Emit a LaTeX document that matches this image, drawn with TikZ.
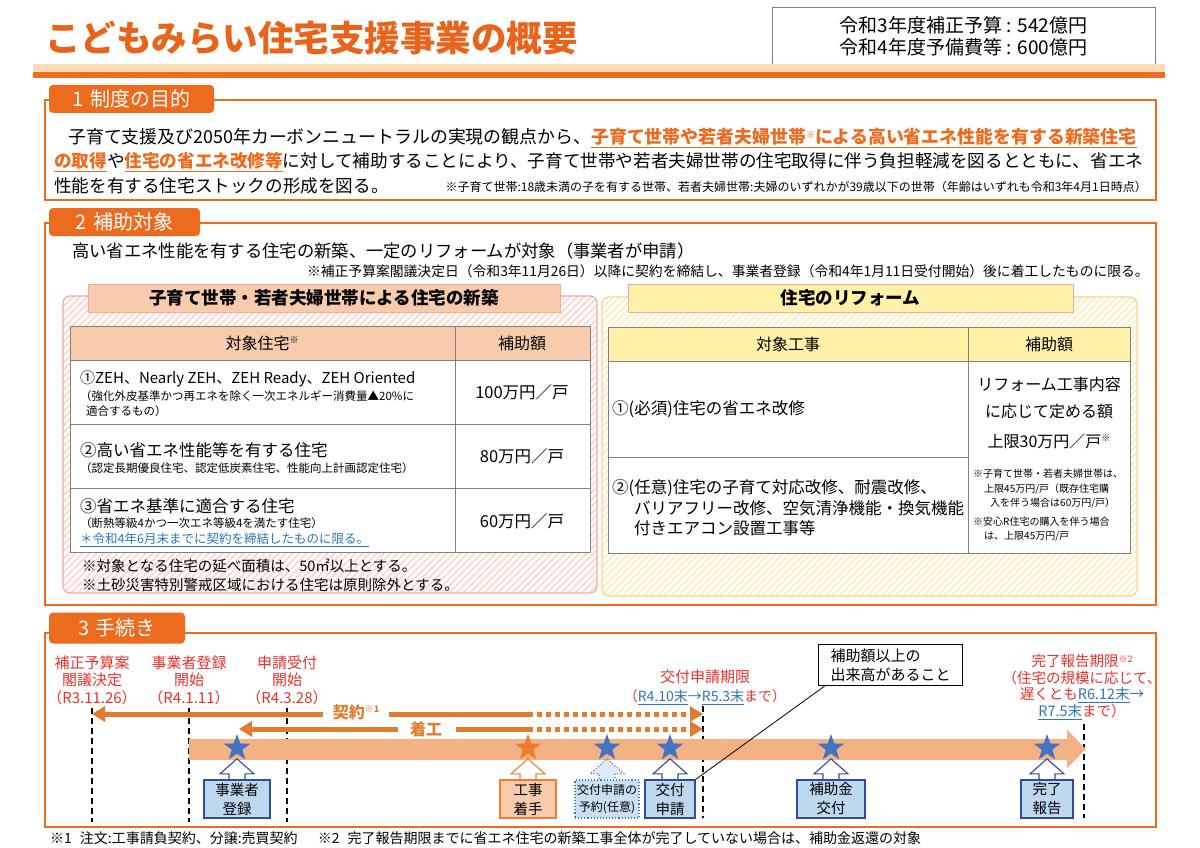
\documentclass[tikz,border=0pt]{standalone}
\usepackage{fontspec}
\setmainfont{Noto Sans CJK JP}
\usetikzlibrary{arrows.meta,shapes.geometric}
\definecolor{orng}{HTML}{EC6B1E}
\definecolor{ttl}{HTML}{E9641A}
\definecolor{lband}{HTML}{FBDDB5}
\definecolor{peach}{HTML}{F8CBAD}
\definecolor{tband}{HTML}{F4B183}
\definecolor{arrc}{HTML}{E37B2F}
\definecolor{redt}{HTML}{E8322B}
\definecolor{bluet}{HTML}{2E75B6}
\definecolor{starb}{HTML}{4472C4}
\definecolor{staro}{HTML}{ED7D31}
\definecolor{lblue}{HTML}{BDD7EE}
\definecolor{dblue}{HTML}{2F4C9E}
\definecolor{ylw}{HTML}{FFF2A8}
\definecolor{hpink}{HTML}{FADAD0}
\definecolor{hylw}{HTML}{FCEFC2}
\definecolor{pinkbd}{HTML}{F3A9A3}
\definecolor{ylwbd}{HTML}{F8D58A}
\definecolor{tgray}{HTML}{808080}
\newcommand\fsz[2]{\fontsize{#1}{#2}\selectfont}
\newcommand\kome[1]{\raisebox{.6ex}{\fsz{9}{9}#1}}
\newcommand\bl[1]{\textcolor{bluet}{\underline{#1}}}
\newcommand\uparr[2]{\draw[#2, line width=1.1pt] (#1.north) ++(-8,-0.6) -- ++(0,-5) -- ++(-9,0) -- ++(17,-15) -- ++(17,15) -- ++(-9,0) -- ++(0,5);}
\tikzset{
  sect/.style={draw=orng, line width=2.6pt},
  tabbox/.style={fill=orng, rounded corners=4pt, text=white, minimum height=28pt, font=\fsz{20}{22}},
  txt/.style={inner sep=0pt, anchor=west},
  tline/.style={draw=tgray, line width=0.9pt},
  lbl/.style={text=redt, align=center, inner sep=0pt, font=\fsz{15}{17.5}},
  ctr/.style={draw=arrc, line width=5pt},
  ctrtip/.style={-{Triangle[length=13pt,width=15pt]}},
  dotl/.style={dash pattern=on 5pt off 4pt},
  vdash/.style={draw=black, line width=1.8pt, dash pattern=on 6pt off 4pt},
  bstar/.style={star, star points=5, star point ratio=2.5, fill=starb, minimum size=28pt, inner sep=0pt},
  stepbox/.style={draw=dblue, fill=lblue, line width=1.1pt, minimum height=38pt, align=center, inner sep=1pt, font=\fsz{14.5}{19}}
}
\begin{document}
\begin{tikzpicture}[x=1pt,y=-1pt]
\fill[white] (0,0) rectangle (1200,848);
\useasboundingbox (0,0) rectangle (1200,848);

\node[txt, text=ttl, font=\fsz{35.5}{36}\bfseries] (title) at (45,38) {こどもみらい住宅支援事業の概要};
\node[draw=tgray, line width=1pt, minimum width=383pt, minimum height=57pt, align=center, font=\fsz{19}{22}] (budget) at (963.5,36.5) {令和3年度補正予算 : 542億円\\令和4年度予備費等 : 600億円};
\fill[lband] (33,64) rectangle (1165,72);
\fill[orng] (33,72) rectangle (1165,78);

\draw[sect] (45,100) rectangle (1156,200);
\node[tabbox, minimum width=165pt] (tab1) at (131.5,99) {1\hspace{6pt}制度の目的};
\node[txt, font=\fsz{17.9}{18}] (p1a) at (68,138) {子育て支援及び2050年カーボンニュートラルの実現の観点から、\textcolor{orng}{\bfseries\underline{子育て世帯や若者夫婦世帯\kome{※}による高い省エネ性能を有する新築住宅}}};
\node[txt, font=\fsz{17.6}{18}] (p1b) at (54,162) {\textcolor{orng}{\bfseries\underline{の取得}}や\textcolor{orng}{\bfseries\underline{住宅の省エネ改修等}}に対して補助することにより、子育て世帯や若者夫婦世帯の住宅取得に伴う負担軽減を図るとともに、省エネ};
\node[txt, font=\fsz{17.6}{18}] (p1c) at (54,186) {性能を有する住宅ストックの形成を図る。};
\node[txt, anchor=east, font=\fsz{12}{12}] (p1n) at (1147,187) {※子育て世帯:18歳未満の子を有する世帯、若者夫婦世帯:夫婦のいずれかが39歳以下の世帯（年齢はいずれも令和3年4月1日時点）};

\draw[sect] (45,223) rectangle (1156,605);
\node[tabbox, minimum width=151pt] (tab2) at (124.5,222) {2\hspace{6pt}補助対象};
\node[txt, font=\fsz{17.3}{18}] (p2a) at (72,251) {高い省エネ性能を有する住宅の新築、一定のリフォームが対象（事業者が申請）};
\node[txt, anchor=east, font=\fsz{13.8}{14}] (p2n) at (1149,271) {※補正予算案閣議決定日（令和3年11月26日）以降に契約を締結し、事業者登録（令和4年1月11日受付開始）後に着工したものに限る。};

\begin{scope}
\clip[rounded corners=7pt] (63,296) rectangle (597,593);
\foreach \k in {-300,-293,...,600} \draw[hpink, line width=2pt] (\k,593) -- ++(300,-300);
\end{scope}
\draw[pinkbd, line width=1.2pt, rounded corners=7pt] (63,296) rectangle (597,593);
\begin{scope}
\clip[rounded corners=7pt] (602,297) rectangle (1137,596);
\foreach \k in {300,307,...,1140} \draw[hylw, line width=2pt] (\k,596) -- ++(300,-300);
\end{scope}
\draw[ylwbd, line width=1.2pt, rounded corners=7pt] (602,297) rectangle (1137,596);

\node[draw=pinkbd, fill=peach, minimum width=472pt, minimum height=28pt, font=\fsz{17.5}{18}\bfseries] (nbt) at (324,298) {子育て世帯・若者夫婦世帯による住宅の新築};
\node[draw=pinkbd, fill=ylw, minimum width=445pt, minimum height=28pt, font=\fsz{17.5}{18}\bfseries] (rft) at (850.5,298) {住宅のリフォーム};

\fill[peach] (70,326) rectangle (590,360);
\fill[white] (70,360) rectangle (590,552);
\draw[tline] (70,326) rectangle (590,552) (455,326) -- (455,552) (70,360) -- (590,360) (70,424) -- (590,424) (70,488) -- (590,488);
\node[font=\fsz{16}{16}] (nbh1) at (262,343) {対象住宅\kome{※}};
\node[font=\fsz{16}{16}] (nbh2) at (522,343) {補助額};
\node[txt, font=\fsz{15}{16}] (r1a) at (80,379) {①ZEH、Nearly ZEH、ZEH Ready、ZEH Oriented};
\node[txt, font=\fsz{11.5}{12}] (r1b) at (80,396) {（強化外皮基準かつ再エネを除く一次エネルギー消費量▲20\%に};
\node[txt, font=\fsz{11.5}{12}] (r1c) at (80,411) {\hspace{6pt}適合するもの）};
\node[txt, font=\fsz{16.5}{17}] (r2a) at (80,450) {②高い省エネ性能等を有する住宅};
\node[txt, font=\fsz{11.5}{12}] (r2b) at (80,468) {（認定長期優良住宅、認定低炭素住宅、性能向上計画認定住宅）};
\node[txt, font=\fsz{16.5}{17}] (r3a) at (80,506) {③省エネ基準に適合する住宅};
\node[txt, font=\fsz{11.5}{12}] (r3b) at (80,523) {（断熱等級4かつ一次エネ等級4を満たす住宅）};
\node[txt, font=\fsz{12.5}{13}] (r3c) at (80,540) {\bl{＊令和4年6月末までに契約を締結したものに限る。}};
\node[font=\fsz{16.5}{17}] (v1) at (522,392) {100万円／戸};
\node[font=\fsz{16.5}{17}] (v2) at (522,456) {80万円／戸};
\node[font=\fsz{16.5}{17}] (v3) at (522,521) {60万円／戸};
\node[txt, font=\fsz{14.5}{15}] (nb1) at (82,566) {※対象となる住宅の延べ面積は、50㎡以上とする。};
\node[txt, font=\fsz{14.5}{15}] (nb2) at (82,585) {※土砂災害特別警戒区域における住宅は原則除外とする。};

\fill[ylw] (608,327) rectangle (1130,361);
\fill[white] (608,361) rectangle (1130,553);
\draw[tline] (608,327) rectangle (1130,553) (968,327) -- (968,553) (608,361) -- (1130,361) (608,457) -- (968,457);
\node[font=\fsz{16}{16}] (rfh1) at (788,344) {対象工事};
\node[font=\fsz{16}{16}] (rfh2) at (1049,344) {補助額};
\node[txt, font=\fsz{16.5}{17}] (w1) at (612,409) {①(必須)住宅の省エネ改修};
\node[txt, font=\fsz{16.5}{17}] (w2a) at (612,488) {②(任意)住宅の子育て対応改修、耐震改修、};
\node[txt, font=\fsz{16.5}{17}] (w2b) at (634,508) {バリアフリー改修、空気清浄機能・換気機能};
\node[txt, font=\fsz{16.5}{17}] (w2c) at (634,528) {付きエアコン設置工事等};
\node[font=\fsz{16}{16}] (a1) at (1049,384) {リフォーム工事内容};
\node[font=\fsz{16}{16}] (a2) at (1049,411) {に応じて定める額};
\node[font=\fsz{16}{16}] (a3) at (1049,441) {上限30万円／戸\kome{※}};
\node[txt, font=\fsz{10}{10}] (a4) at (973,474) {※子育て世帯・若者夫婦世帯は、};
\node[txt, font=\fsz{10}{10}] (a5) at (984,489) {上限45万円/戸（既存住宅購};
\node[txt, font=\fsz{10}{10}] (a6) at (990,503) {入を伴う場合は60万円/戸）};
\node[txt, font=\fsz{10}{10}] (a7) at (973,522) {※安心R住宅の購入を伴う場合};
\node[txt, font=\fsz{10}{10}] (a8) at (984,536) {は、上限45万円/戸};

\draw[sect] (45,633) rectangle (1156,827);
\node[tabbox, minimum width=136pt, minimum height=31pt] (tab3) at (117,628) {3\hspace{6pt}手続き};

\node[lbl] (d1) at (92,680) {補正予算案\\閣議決定\\（R3.11.26）};
\node[lbl] (d2) at (189,680) {事業者登録\\開始\\（R4.1.11）};
\node[lbl] (d3) at (287,680) {申請受付\\開始\\（R4.3.28）};
\node[lbl, font=\fsz{15}{19}] (d4) at (705,687) {交付申請期限\\{\fsz{14}{14}（\bl{R4.10末}\textcolor{bluet}{→}\bl{R5.3末}まで）}};
\node[lbl, font=\fsz{14.5}{16.5}] (d5) at (1082,687) {完了報告期限\kome{※2}\\（住宅の規模に応じて、\\遅くとも\bl{R6.12末}\textcolor{bluet}{→}\\\bl{R7.5末}まで）};

\coordinate (t1) at (92,708);   \coordinate (b1) at (92,822);
\coordinate (t2) at (189,708);  \coordinate (b2) at (189,822);
\coordinate (t3) at (287,708);  \coordinate (b3) at (287,822);
\coordinate (t4) at (703,706);  \coordinate (b4) at (703,818);
\coordinate (t5) at (1084,724); \coordinate (b5) at (1084,818);
\foreach \i in {1,...,5} \draw[vdash] (t\i) -- (b\i);

\coordinate (ts) at (189,749);
\coordinate (te) at (1086,749);
\draw[tband, line width=21pt, -{Triangle[length=19pt,width=37pt]}] (ts) -- (te);

\node[bstar] (s1) at (237,748) {};
\node[bstar, fill=staro] (s2) at (528,748) {};
\node[bstar] (s3) at (607,748) {};
\node[bstar] (s4) at (670,748) {};
\node[bstar] (s5) at (831,748) {};
\node[bstar] (s6) at (1047,748) {};

\node[stepbox, minimum width=66pt] (reg) at (237,799) {事業者\\登録};
\node[stepbox, draw=staro, fill=peach, minimum width=56pt] (kou) at (528,799) {工事\\着手};
\node[stepbox, draw=starb, dotted, fill=lblue!80, minimum width=64pt, font=\fsz{12}{17}] (yoy) at (607,799) {交付申請の\\予約(任意)};
\node[stepbox, minimum width=50pt] (shn) at (670,799) {交付\\申請};
\node[stepbox, minimum width=68pt] (hoj) at (831,799) {補助金\\交付};
\node[stepbox, minimum width=52pt] (kan) at (1047,799) {完了\\報告};
\uparr{reg}{dblue, fill=white}
\uparr{kou}{staro, fill=white}
\uparr{yoy}{starb, dotted, fill=lblue!50}
\uparr{shn}{dblue, fill=white}
\uparr{hoj}{dblue, fill=white}
\uparr{kan}{dblue, fill=white}

\node[font=\fsz{16}{16}\bfseries, text=arrc, inner sep=0pt] (kei) at (356,712) {契約\kome{※1}};
\node[font=\fsz{16}{16}\bfseries, text=arrc, inner sep=0pt] (chk) at (426,729) {着工};
\coordinate (k0) at (92,714);  \coordinate (k1) at (528,714);  \coordinate (k2) at (703,714);
\coordinate (c0) at (239,729); \coordinate (c1) at (528,729);  \coordinate (c2) at (703,729);
\draw[ctr, ctrtip] ([xshift=-10pt]kei.west |- k0) -- (k0);
\draw[ctr] ([xshift=10pt]kei.east |- k1) -- (k1);
\draw[ctr, dotl, ctrtip] (k1) -- (k2);
\draw[ctr, ctrtip] ([xshift=-12pt]chk.west |- c0) -- (c0);
\draw[ctr] ([xshift=14pt]chk.east |- c1) -- (c1);
\draw[ctr, dotl, ctrtip] (c1) -- (c2);

\node[draw=black, fill=white, line width=1pt, align=left, font=\fsz{15}{19}, minimum width=144pt, minimum height=39pt, inner sep=4pt, anchor=north west] (call) at (818,644) {補助額以上の\\出来高があること};
\draw[black, line width=0.8pt] ([xshift=7pt]call.south west) -- (shn.north east);

\node[txt, font=\fsz{14}{14}] (foot) at (50,838) {※1\hspace{8pt}注文:工事請負契約、分譲:売買契約\hspace{20pt}※2\hspace{8pt}完了報告期限までに省エネ住宅の新築工事全体が完了していない場合は、補助金返還の対象};
\end{tikzpicture}
\end{document}
